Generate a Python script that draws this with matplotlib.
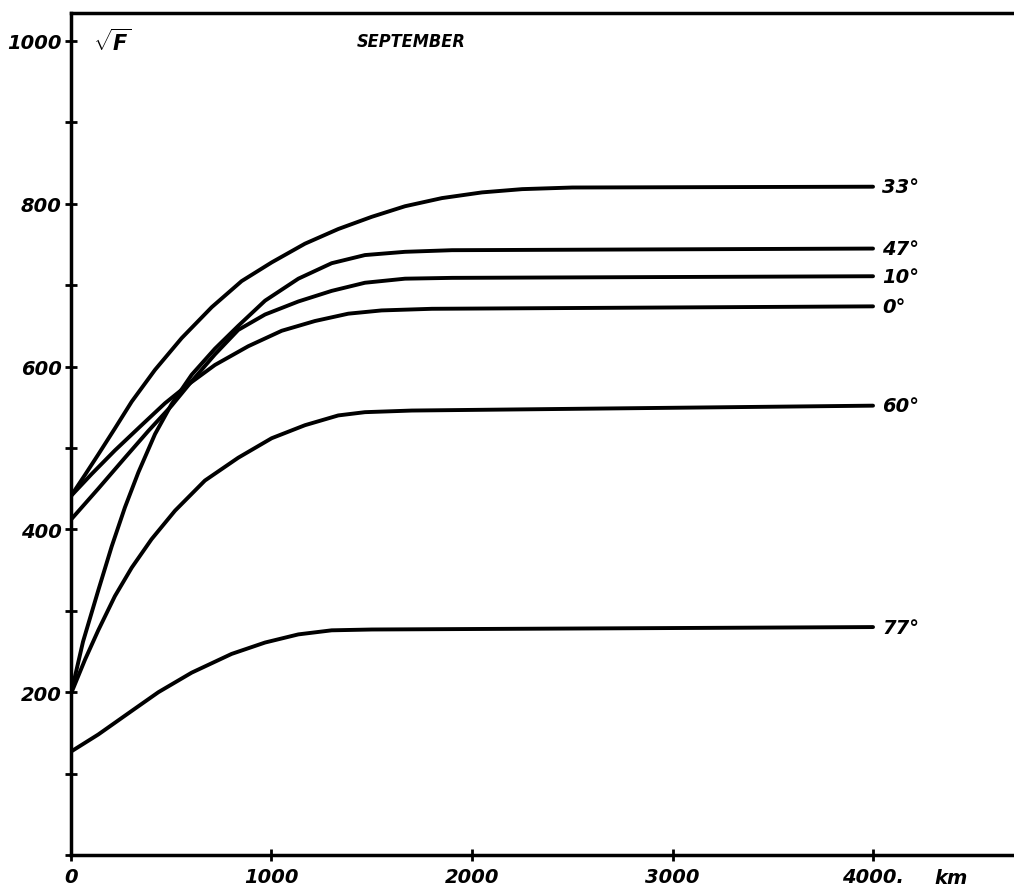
import matplotlib
matplotlib.use("Agg")
import matplotlib.pyplot as plt
from matplotlib.ticker import MultipleLocator

plt.rcParams["mathtext.fontset"] = "custom"
plt.rcParams["mathtext.it"] = "DejaVu Sans:italic:bold"
plt.rcParams["mathtext.rm"] = "DejaVu Sans:bold"

# distance along the path (km) and sqrt(F) for each latitude
LATITUDES = ["33°", "47°", "10°", "0°", "60°", "77°"]
x33 = [0, 70, 136, 219, 303, 419, 552, 702, 851, 1001, 1167, 1333, 1500, 1666, 1850, 2050, 2250, 2500, 4000]
y33 = [441, 467, 492, 524, 557, 596, 635, 673, 705, 728, 751, 769, 784, 797, 807, 814, 818, 820, 821]
x47 = [0, 60, 136, 203, 269, 336, 419, 502, 602, 718, 834, 968, 1134, 1300, 1466, 1666, 1900, 4000]
y47 = [198, 262, 325, 379, 427, 470, 517, 554, 590, 622, 650, 681, 708, 727, 737, 741, 743, 745]
x10 = [0, 136, 269, 386, 502, 602, 718, 834, 968, 1134, 1300, 1466, 1666, 1900, 4000]
y10 = [412, 450, 488, 521, 552, 582, 615, 645, 664, 680, 693, 703, 708, 709, 711]
x00 = [0, 103, 219, 352, 469, 585, 718, 884, 1051, 1217, 1383, 1549, 1800, 4000]
y00 = [441, 468, 497, 528, 555, 578, 602, 625, 644, 656, 665, 669, 671, 674]
x60 = [0, 70, 136, 219, 303, 402, 519, 668, 834, 1001, 1167, 1333, 1466, 1700, 4000]
y60 = [198, 240, 276, 318, 353, 388, 423, 460, 488, 512, 528, 540, 544, 546, 552]
x77 = [0, 136, 303, 436, 602, 801, 968, 1134, 1300, 1500, 4000]
y77 = [127, 148, 177, 200, 224, 247, 261, 271, 276, 277, 280]

XTICKS = [0, 1000, 2000, 3000, 4000]
XLABELS = ["0", "1000", "2000", "3000", "4000."]
YTICKS = [200, 400, 600, 800, 1000]

series = [(x33, y33), (x47, y47), (x10, y10), (x00, y00), (x60, y60), (x77, y77)]

lab = dict(fontsize=14, fontweight="bold", fontstyle="italic", family="DejaVu Sans")

fig = plt.figure(figsize=(10.14, 8.95), dpi=100)
ax = fig.add_axes([0.070, 0.0436, 0.930, 0.9404])
ax.set_xlim(0, 4703)
ax.set_ylim(0, 1034)

for (xs, ys), name in zip(series, LATITUDES):
    ax.plot(xs, ys, color="black", lw=2.8, solid_joinstyle="round", solid_capstyle="round")
    ax.text(xs[-1] + 45, ys[-1], name, ha="left", va="center", **lab)

for side in ("left", "bottom", "top"):
    ax.spines[side].set_linewidth(2.5)
ax.spines["right"].set_visible(False)

ax.set_xticks(XTICKS)
ax.set_xticklabels(XLABELS, **lab)
ax.set_yticks(YTICKS)
ax.set_yticklabels([str(v) for v in YTICKS], **lab)
ax.yaxis.set_minor_locator(MultipleLocator(100))
ax.tick_params(axis="both", which="both", direction="inout", length=9, width=2)
ax.tick_params(axis="y", pad=2)
ax.tick_params(axis="x", pad=4)

ax.text(4390, -0.015, "km", transform=ax.get_xaxis_transform(), ha="center", va="top", **lab)
ax.text(205, 1000, r"$\sqrt{F}$", ha="center", va="center", fontsize=15)
ax.text(1696, 1000, "SEPTEMBER", ha="center", va="center", fontsize=13, fontstretch="condensed",
        fontweight="bold", fontstyle="italic", family="DejaVu Sans")

fig.savefig("out.png", dpi=100)
